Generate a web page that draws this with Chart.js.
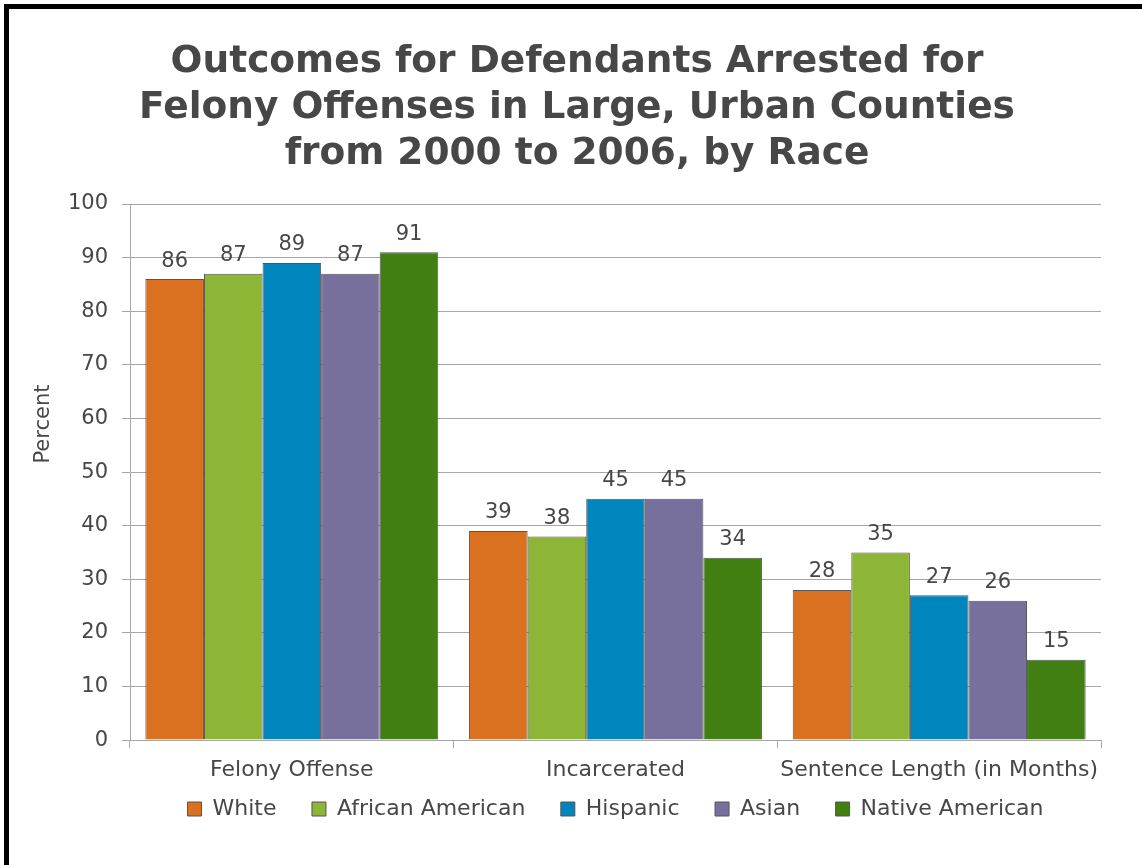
<!DOCTYPE html>
<html>
<head>
<meta charset="utf-8">
<script src="https://cdn.jsdelivr.net/npm/chart.js@4.4.1/dist/chart.umd.min.js"></script>
<style>
    html, body { margin: 0; padding: 0; background: #fff; }
    #wrap { position: relative; width: 1142px; height: 865px; overflow: hidden; }
    #chart { position: absolute; left: 0; top: 0; }
    /* moldura preta do quadro original */
    #frame { position: absolute; left: 4px; top: 4px; right: 0; bottom: 0;
             border-left: 5px solid #000; border-top: 5px solid #000; pointer-events: none; }
</style>
</head>
<body>
<div id="wrap">
    <canvas id="chart" width="1142" height="865"></canvas>
    <div id="frame"></div>
</div>
<script>
// dados
const categories = ["Felony Offense", "Incarcerated", "Sentence Length (in Months)"];
const seriesNames = ["White", "African American", "Hispanic", "Asian", "Native American"];
const white = [86, 39, 28];
const africanAmerican = [87, 38, 35];
const hispanic = [89, 45, 27];
const asian = [87, 45, 26];
const nativeAmerican = [91, 34, 15];
const yTicks = [0, 10, 20, 30, 40, 50, 60, 70, 80, 90, 100];

const colors = ["#d97120", "#8db536", "#0085bd", "#77709c", "#417f12"];
const textColor = "#474747";
const gridColor = "#a6a6a6";
const fontFamily = "'DejaVu Sans'";

// valores em cima das barras + titulo do eixo Y (um pouco acima do centro, como no original)
const valueLabels = {
    id: "valueLabels",
    afterDatasetsDraw(chart) {
        const ctx = chart.ctx;
        ctx.save();
        ctx.font = "21px " + fontFamily;
        ctx.fillStyle = textColor;
        ctx.textAlign = "center";
        ctx.textBaseline = "middle";
        chart.data.datasets.forEach((ds, i) => {
            chart.getDatasetMeta(i).data.forEach((bar, j) => {
                ctx.fillText(String(ds.data[j]), bar.x, bar.y - 18);
            });
        });

        const area = chart.chartArea;
        ctx.translate(44, (area.top + area.bottom) / 2 - 48);
        ctx.rotate(-Math.PI / 2);
        ctx.fillText("Percent", 0, 0);
        ctx.restore();
    }
};

// legenda sobe um pouco para ficar junto dos rotulos do eixo X
const legendShift = {
    id: "legendShift",
    afterLayout(chart) {
        chart.legend.top -= 30;
        chart.legend.bottom -= 30;
    }
};

const allSeries = [white, africanAmerican, hispanic, asian, nativeAmerican];

new Chart(document.getElementById("chart"), {
    type: "bar",
    data: {
        labels: categories,
        datasets: allSeries.map((values, i) => ({
            label: seriesNames[i],
            data: values,
            backgroundColor: colors[i],
            borderColor: "#555555",
            borderWidth: 1,
            barPercentage: 1,
            categoryPercentage: 0.905,
        })),
    },
    options: {
        responsive: false,
        animation: false,
        layout: { padding: { left: 53, right: 41, top: 0, bottom: 5 } },
        plugins: {
            title: {
                display: true,
                text: ["Outcomes for Defendants Arrested for",
                       "Felony Offenses in Large, Urban Counties",
                       "from 2000 to 2006, by Race"],
                color: textColor,
                font: { family: fontFamily, size: 37.5, weight: "bold", lineHeight: 1.227 },
                padding: { top: 39, bottom: 27 },
            },
            legend: {
                position: "bottom",
                fullSize: false,
                labels: {
                    color: textColor,
                    boxWidth: 14,
                    boxHeight: 14,
                    padding: 35.5,
                    font: { family: fontFamily, size: 22 },
                },
            },
            tooltip: { enabled: false },
        },
        scales: {
            x: {
                grid: { offset: true, drawOnChartArea: false, color: gridColor, tickLength: 8 },
                border: { color: gridColor },
                ticks: {
                    color: textColor,
                    maxRotation: 0,
                    autoSkip: false,
                    padding: 9,
                    font: { family: fontFamily, size: 22 },
                },
            },
            y: {
                min: 0,
                max: 100,
                afterBuildTicks: (scale) => { scale.ticks = yTicks.map((v) => ({ value: v })); },
                grid: { color: gridColor, tickLength: 8 },
                border: { color: gridColor },
                ticks: {
                    color: textColor,
                    padding: 14,
                    font: { family: fontFamily, size: 21 },
                },
                afterFit: (scale) => { scale.width = 77; },
            },
        },
    },
    plugins: [valueLabels, legendShift],
});
</script>
</body>
</html>
